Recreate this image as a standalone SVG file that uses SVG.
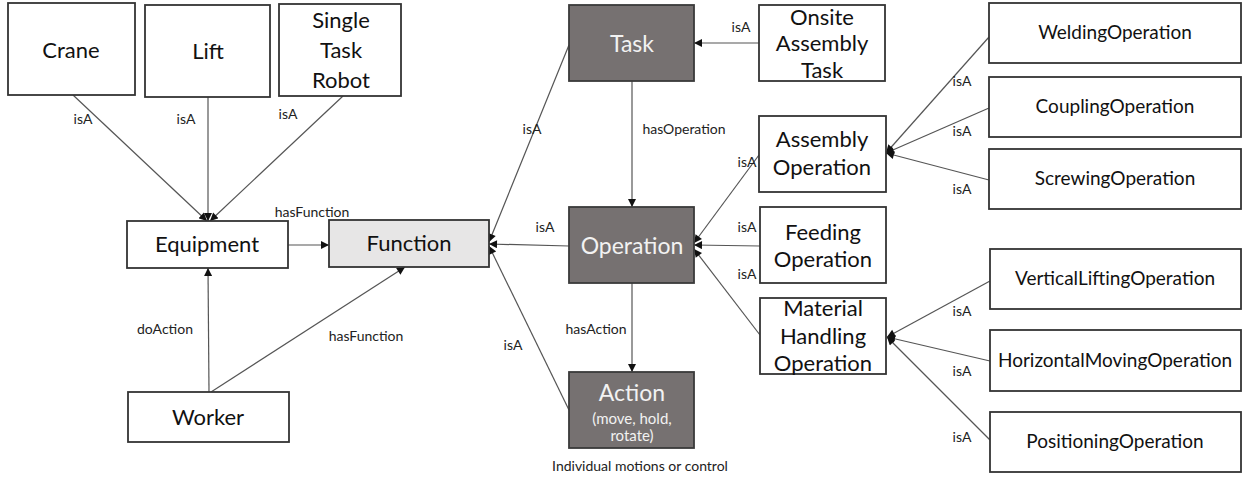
<svg xmlns="http://www.w3.org/2000/svg" width="1248" height="477" viewBox="0 0 1248 477">
<defs>
<style>
.box{fill:#fff;stroke:#333;stroke-width:1.8}
.dark{fill:#767171;stroke:#3a3a3a;stroke-width:1.8}
.grey{fill:#e7e6e6;stroke:#333;stroke-width:1.8}
.t{font-family:Lato,"Liberation Sans",sans-serif;font-size:22px;fill:#111;text-anchor:middle}
.tw{font-family:Lato,"Liberation Sans",sans-serif;font-size:23px;fill:#f2f2f2;text-anchor:middle}
.ts{font-family:Lato,"Liberation Sans",sans-serif;font-size:15px;fill:#f2f2f2;text-anchor:middle}
.tr{font-family:Lato,"Liberation Sans",sans-serif;font-size:19px;fill:#111;text-anchor:middle}
.lbl{font-family:Lato,"Liberation Sans",sans-serif;font-size:14px;fill:#222;text-anchor:middle}
.c{stroke:#555;stroke-width:1.2;fill:none;marker-end:url(#ah)}
</style>
<marker id="ah" viewBox="0 0 10 10" refX="10" refY="5" markerWidth="9" markerHeight="8" markerUnits="userSpaceOnUse" orient="auto">
<path d="M0,0 L10,5 L0,10 z" fill="#111"/>
</marker>
</defs>
<rect width="1248" height="477" fill="#fff"/>
<g id="connectors">
<line class="c" x1="73" y1="95" x2="207" y2="221"/>
<line class="c" x1="208" y1="97" x2="208" y2="221"/>
<line class="c" x1="343" y1="96" x2="210" y2="221"/>
<line class="c" x1="288" y1="245" x2="329" y2="245"/>
<line class="c" x1="209" y1="392" x2="208" y2="268"/>
<line class="c" x1="211" y1="392" x2="405" y2="267"/>
<line class="c" x1="569" y1="45" x2="489" y2="242"/>
<line class="c" x1="569" y1="246" x2="489" y2="244"/>
<line class="c" x1="569" y1="410" x2="489" y2="246"/>
<line class="c" x1="759" y1="43" x2="694" y2="43"/>
<line class="c" x1="632" y1="81" x2="632" y2="207"/>
<line class="c" x1="632" y1="283" x2="632" y2="372"/>
<line class="c" x1="759" y1="155" x2="694" y2="243"/>
<line class="c" x1="760" y1="246" x2="694" y2="245"/>
<line class="c" x1="760" y1="335" x2="694" y2="249"/>
<line class="c" x1="989" y1="37" x2="886" y2="153"/>
<line class="c" x1="989" y1="108" x2="886" y2="153"/>
<line class="c" x1="989" y1="180" x2="886" y2="153"/>
<line class="c" x1="990" y1="281" x2="887" y2="337"/>
<line class="c" x1="990" y1="361" x2="887" y2="337"/>
<line class="c" x1="990" y1="440" x2="887" y2="337"/>
<text class="lbl" x="83" y="124">isA</text>
<text class="lbl" x="186" y="124">isA</text>
<text class="lbl" x="288" y="119">isA</text>
<text class="lbl" x="312" y="217">hasFunction</text>
<text class="lbl" x="165" y="334">doAction</text>
<text class="lbl" x="366" y="341">hasFunction</text>
<text class="lbl" x="532" y="134">isA</text>
<text class="lbl" x="545" y="232">isA</text>
<text class="lbl" x="513" y="350">isA</text>
<text class="lbl" x="741" y="32">isA</text>
<text class="lbl" x="684" y="134">hasOperation</text>
<text class="lbl" x="596" y="334">hasAction</text>
<text class="lbl" x="747" y="167">isA</text>
<text class="lbl" x="747" y="232">isA</text>
<text class="lbl" x="747" y="279">isA</text>
<text class="lbl" x="962" y="86">isA</text>
<text class="lbl" x="962" y="136">isA</text>
<text class="lbl" x="962" y="194">isA</text>
<text class="lbl" x="962" y="316">isA</text>
<text class="lbl" x="962" y="376">isA</text>
<text class="lbl" x="962" y="442">isA</text>
</g>
<g id="crane"><rect class="box" x="8" y="3" width="127" height="92"/><text class="t" x="71" y="58">Crane</text></g>
<g id="lift"><rect class="box" x="145" y="5" width="125" height="92"/><text class="t" x="208" y="59">Lift</text></g>
<g id="single-task-robot"><rect class="box" x="279" y="4" width="122" height="92"/><text class="t" x="341" y="28">Single</text><text class="t" x="341" y="58">Task</text><text class="t" x="341" y="88">Robot</text></g>
<g id="equipment"><rect class="box" x="127" y="221" width="161" height="47"/><text class="t" x="207" y="252">Equipment</text></g>
<g id="function"><rect class="grey" x="329" y="220" width="160" height="47"/><text class="t" x="409" y="251">Function</text></g>
<g id="worker"><rect class="box" x="128" y="392" width="161" height="50"/><text class="t" x="208" y="425">Worker</text></g>
<g id="task"><rect class="dark" x="569" y="5" width="125" height="76"/><text class="tw" x="632" y="52">Task</text></g>
<g id="onsite-assembly-task"><rect class="box" x="759" y="5" width="126" height="76"/><text class="t" x="822" y="25">Onsite</text><text class="t" x="822" y="51">Assembly</text><text class="t" x="822" y="78">Task</text></g>
<g id="operation"><rect class="dark" x="569" y="207" width="125" height="76"/><text class="tw" x="632" y="254">Operation</text></g>
<g id="action"><rect class="dark" x="569" y="372" width="125" height="76"/><text class="tw" x="632" y="401">Action</text><text class="ts" x="632" y="424">(move, hold,</text><text class="ts" x="632" y="441">rotate)</text></g>
<text class="lbl" x="640" y="471">Individual motions or control</text>
<g id="assembly-operation"><rect class="box" x="759" y="116" width="127" height="76"/><text class="t" x="822" y="147">Assembly</text><text class="t" x="822" y="175">Operation</text></g>
<g id="feeding-operation"><rect class="box" x="760" y="207" width="126" height="76"/><text class="t" x="823" y="240">Feeding</text><text class="t" x="823" y="267">Operation</text></g>
<g id="material-handling-operation"><rect class="box" x="760" y="298" width="126" height="76"/><text class="t" x="823" y="316">Material</text><text class="t" x="823" y="344">Handling</text><text class="t" x="823" y="371">Operation</text></g>
<g id="welding-operation"><rect class="box" x="989" y="3" width="252" height="60"/><text class="tr" x="1115" y="39">WeldingOperation</text></g>
<g id="coupling-operation"><rect class="box" x="989" y="77" width="252" height="60"/><text class="tr" x="1115" y="113">CouplingOperation</text></g>
<g id="screwing-operation"><rect class="box" x="989" y="149" width="252" height="60"/><text class="tr" x="1115" y="185">ScrewingOperation</text></g>
<g id="vertical-lifting-operation"><rect class="box" x="990" y="249" width="251" height="60"/><text class="tr" x="1115" y="285">VerticalLiftingOperation</text></g>
<g id="horizontal-moving-operation"><rect class="box" x="990" y="330" width="251" height="61"/><text class="tr" x="1115" y="367">HorizontalMovingOperation</text></g>
<g id="positioning-operation"><rect class="box" x="990" y="412" width="251" height="60"/><text class="tr" x="1115" y="448">PositioningOperation</text></g>
</svg>
